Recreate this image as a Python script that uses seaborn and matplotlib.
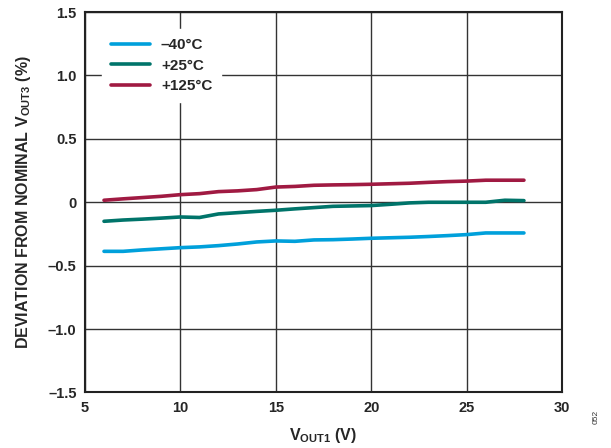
import matplotlib
matplotlib.use("Agg")
import matplotlib.pyplot as plt
import numpy as np
import pandas as pd
import seaborn as sns

vout1 = list(range(6, 29))
dev_m40 = [-0.387, -0.387, -0.376, -0.367, -0.358, -0.352, -0.342, -0.329, -0.313, -0.305,
           -0.308, -0.297, -0.295, -0.290, -0.284, -0.280, -0.276, -0.270, -0.263, -0.255,
           -0.242, -0.242, -0.242]
dev_p25 = [-0.150, -0.140, -0.133, -0.125, -0.116, -0.120, -0.092, -0.082, -0.072, -0.063,
           -0.052, -0.042, -0.032, -0.029, -0.026, -0.016, -0.005, 0.0, 0.0, 0.0,
           0.0, 0.016, 0.013]
dev_p125 = [0.016, 0.027, 0.037, 0.047, 0.060, 0.068, 0.084, 0.090, 0.100, 0.120,
            0.125, 0.134, 0.137, 0.139, 0.142, 0.146, 0.150, 0.157, 0.163, 0.167,
            0.174, 0.174, 0.174]
labels = ["\u201340°C", "+25°C", "+125°C"]
colors = ["#00A0DB", "#00746A", "#A01A42"]
yticks = [-1.5, -1.0, -0.5, 0, 0.5, 1.0, 1.5]
ytick_labels = ["\u20131.5", "\u20131.0", "\u20130.5", "0", "0.5", "1.0", "1.5"]
xticks = [5, 10, 15, 20, 25, 30]

df = pd.concat([
    pd.DataFrame({"x": vout1, "y": dev_m40, "temp": labels[0]}),
    pd.DataFrame({"x": vout1, "y": dev_p25, "temp": labels[1]}),
    pd.DataFrame({"x": vout1, "y": dev_p125, "temp": labels[2]}),
])

sns.set_style("white")
plt.rcParams["font.family"] = ["Liberation Sans", "DejaVu Sans"]
plt.rcParams["font.weight"] = "bold"
plt.rcParams["mathtext.fontset"] = "custom"
plt.rcParams["mathtext.rm"] = "Liberation Sans:bold"
plt.rcParams["mathtext.bf"] = "Liberation Sans:bold"
plt.rcParams["mathtext.default"] = "bf"

fig = plt.figure(figsize=(6.11, 4.48), dpi=100)
ax = fig.add_axes([0.139, 0.124, 0.781, 0.849])

sns.lineplot(data=df, x="x", y="y", hue="temp", palette=colors, linewidth=2.6,
             ax=ax, zorder=3)

ax.set_xlim(5, 30)
ax.set_ylim(-1.5, 1.5)
ax.set_xticks(xticks)
ax.set_yticks(yticks)
ax.set_yticklabels(ytick_labels)
ax.grid(True, color="#333333", linewidth=1.0, zorder=0)
ax.tick_params(axis="both", length=0, labelsize=10.5, pad=6)
for s in ax.spines.values():
    s.set_color("#222222")
    s.set_linewidth(1.5)
for lab in ax.get_xticklabels() + ax.get_yticklabels():
    lab.set_fontweight("bold")

ax.set_xlabel(r"V$_{OUT1}$ (V)", fontsize=11.5, fontweight="bold", labelpad=8)
ax.set_ylabel(r"DEVIATION FROM NOMINAL V$_{OUT3}$ (%)", fontsize=11.5,
              fontweight="bold", labelpad=11)

leg = ax.legend(loc="upper left", bbox_to_anchor=(0.02, 0.975), frameon=True,
                fancybox=False, edgecolor="white", facecolor="white", framealpha=1,
                fontsize=11, handlelength=2.55, handletextpad=0.7,
                labelspacing=0.42, borderpad=0.6)
for t in leg.get_texts():
    t.set_fontweight("bold")
leg.set_zorder(5)

fig.text(0.975, 0.07, "052", rotation=90, fontsize=6, color="#333333",
         fontweight="normal", ha="center", va="center")

fig.savefig("out.png", dpi=100)
